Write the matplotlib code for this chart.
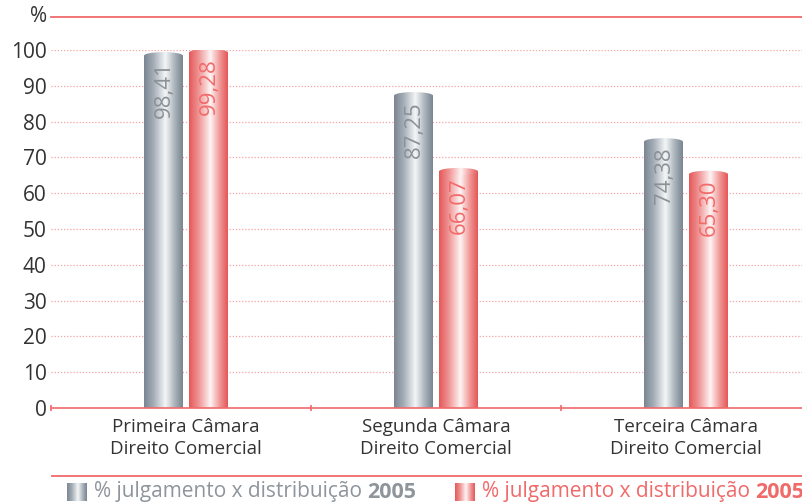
import numpy as np
import matplotlib
matplotlib.use("Agg")
from matplotlib import pyplot as plt
from matplotlib.patches import Rectangle, Ellipse
from matplotlib.colors import LinearSegmentedColormap

plt.rcParams['font.family'] = ['Open Sans', 'DejaVu Sans']

categories = ["Primeira Câmara\nDireito Comercial",
              "Segunda Câmara\nDireito Comercial",
              "Terceira Câmara\nDireito Comercial"]
serie_cinza = [98.41, 87.25, 74.38]
serie_vermelha = [99.28, 66.07, 65.30]
rotulos_cinza = ["98,41", "87,25", "74,38"]
rotulos_vermelha = ["99,28", "66,07", "65,30"]
yticks = list(range(0, 101, 10))
legenda = "% julgamento x distribuição "
legenda_ano = "2005"

RED = "#f06a6a"
GRAY_TXT = "#8e959b"
DARK = "#333333"

cmap_cinza = LinearSegmentedColormap.from_list(
    "cinza", [(0, "#7a8692"), (0.25, "#a5aeb7"), (0.55, "#f4f6f7"), (0.8, "#a8b1b9"), (1, "#788490")])
cmap_verm = LinearSegmentedColormap.from_list(
    "verm", [(0, "#e65858"), (0.25, "#ef9494"), (0.55, "#fff4f4"), (0.8, "#f09494"), (1, "#e45656")])

fig = plt.figure(figsize=(8.03, 5.03), dpi=100)
px = 1 / 803.0
py = 1 / 503.0
# eixo: x começa em 51px, 250 px por categoria; y 0 em 408 px, 100 em 50 px
x_left = -0.54
x_right = x_left + (803 - 51) / 250.0
ax = fig.add_axes([51 * px, 1 - 408 * py, 752 * px, 358 * py])
ax.set_xlim(x_left, x_right)
ax.set_ylim(0, 100)

for s in ["top", "right", "left"]:
    ax.spines[s].set_visible(False)
ax.spines["bottom"].set_color(RED)
ax.spines["bottom"].set_linewidth(1.2)

ax.set_yticks(yticks)
ax.set_yticklabels([str(v) for v in yticks], fontsize=15, color=DARK)
ax.tick_params(axis="y", length=0, pad=3)
for v in yticks[1:]:
    ax.axhline(v, color="#f5a3a3", lw=0.9, ls=(0, (1, 1.5)), zorder=0)

ax.set_xticks([])
ax.set_xticks([x_left, 0.5, 1.5], minor=True)
ax.tick_params(axis="x", which="minor", length=5, color=RED, width=1.2, direction="inout")
for i, c in enumerate(categories):
    ax.text(i, -2.8, c, ha="center", va="top", fontsize=13.5, color=DARK, linespacing=1.25)

bw = 0.156
off = 0.09
grad = np.linspace(0, 1, 256).reshape(1, -1)
cap_h = 2.0


def cilindro(xc, h, cmap, rotulo, cor_txt):
    x0, x1 = xc - bw / 2, xc + bw / 2
    rect = Rectangle((x0, 0), bw, h, transform=ax.transData, facecolor="none", edgecolor="none")
    ax.add_patch(rect)
    im = ax.imshow(grad, cmap=cmap, extent=[x0, x1, 0, h], aspect="auto", zorder=2)
    im.set_clip_path(rect)
    cap = Ellipse((xc, h), bw, cap_h, transform=ax.transData, edgecolor="none",
                  facecolor="none", zorder=3)
    ax.add_patch(cap)
    im2 = ax.imshow(np.linspace(0.3, 0.9, 256).reshape(1, -1), cmap=cmap,
                    extent=[x0, x1, h - cap_h, h + cap_h], aspect="auto", zorder=3)
    im2.set_clip_path(cap)
    ax.text(xc + 0.005, h - 1.6, rotulo, rotation=90, ha="center", va="top",
            fontsize=16, color=cor_txt, zorder=4)


for i in range(len(categories)):
    cilindro(i - off, serie_cinza[i], cmap_cinza, rotulos_cinza[i], "#8a9197")
    cilindro(i + off, serie_vermelha[i], cmap_verm, rotulos_vermelha[i], "#f26a6a")

ax.set_xlim(x_left, x_right)
ax.set_ylim(0, 100)

# cabeçalho % e linha superior
fig.text(47 * px, 1 - 17 * py, "%", ha="right", va="center", fontsize=15, color=DARK)
fig.add_artist(plt.Line2D([51 * px, 1], [1 - 17 * py] * 2, color=RED, lw=1.3))
# linha acima da legenda
fig.add_artist(plt.Line2D([52 * px, 1], [1 - 476 * py] * 2, color=RED, lw=1.3))

# legenda
fig.canvas.draw()
renderer = fig.canvas.get_renderer()


def item_legenda(x_sw, cmap, cor):
    sw = fig.add_axes([x_sw * px, 1 - 501 * py, 20 * px, 18 * py])
    sw.imshow(grad, cmap=cmap, aspect="auto")
    sw.axis("off")
    t = fig.text((x_sw + 27) * px, 1 - 492 * py, legenda, ha="left", va="center",
                 fontsize=15, color=cor)
    bb = t.get_window_extent(renderer=renderer)
    fig.text(bb.x1 / fig.bbox.width, 1 - 492 * py, legenda_ano, ha="left", va="center",
             fontsize=15.5, color=cor, fontweight="bold")


item_legenda(67, cmap_cinza, GRAY_TXT)
item_legenda(455, cmap_verm, RED)

fig.savefig("out.png", dpi=100)
